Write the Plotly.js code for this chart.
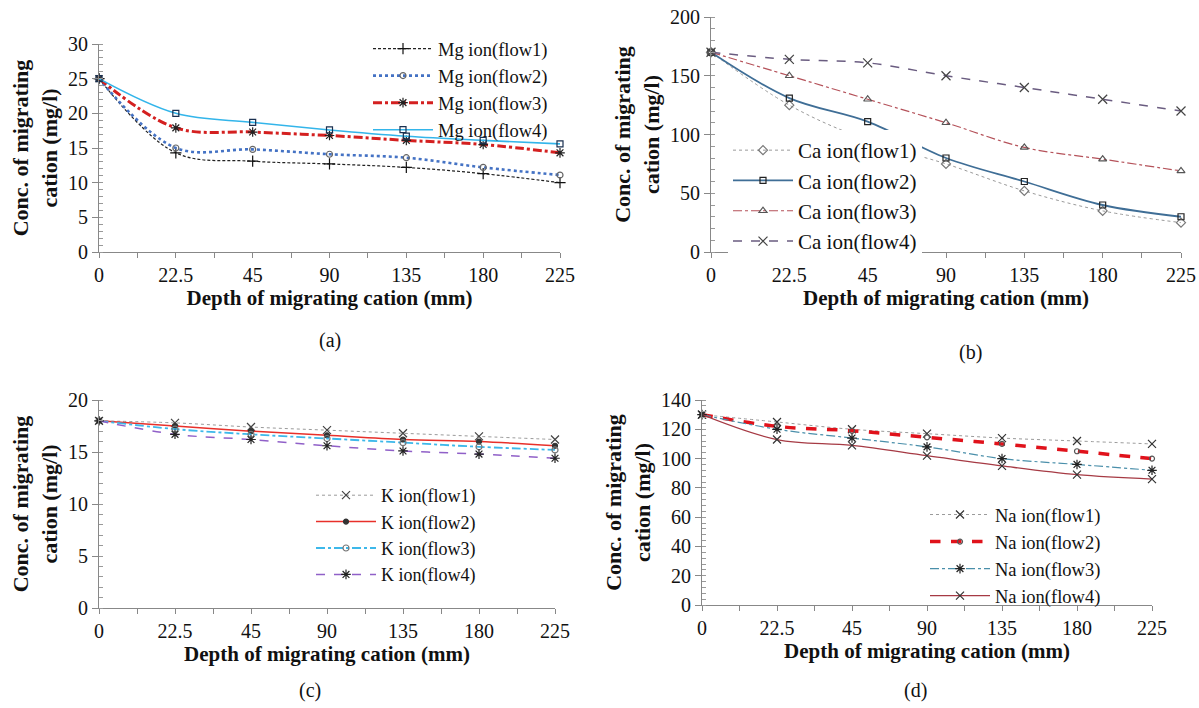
<!DOCTYPE html>
<html>
<head>
<meta charset="utf-8">
<script src="https://cdn.plot.ly/plotly-3.0.1.min.js"></script>
<style>html,body{margin:0;padding:0;background:#fff;}#chart{width:1199px;height:708px;}</style>
</head>
<body>
<div id="chart"></div>
<script>
// Tick labels (categorical depths, equally spaced)
const depthLabels = ['0', '22.5', '45', '90', '135', '180', '225'];

// (a) Mg
const mgFlow1 = [25, 14.3, 13.1, 12.7, 12.2, 11.3, 10.0];
const mgFlow2 = [25, 15.0, 14.8, 14.1, 13.6, 12.2, 11.1];
const mgFlow3 = [25, 17.9, 17.3, 16.8, 16.1, 15.5, 14.3];
const mgFlow4 = [25, 20.0, 18.7, 17.6, 16.7, 16.1, 15.6];
// (b) Ca
const caFlow1 = [170, 125, 95, 75, 52, 35, 25];
const caFlow2 = [170, 131, 111, 80, 60, 40, 30];
const caFlow3 = [170, 150, 130, 110, 89, 79, 69];
const caFlow4 = [170, 164, 161, 150, 140, 130, 120];
// (c) K
const kFlow1 = [18, 17.8, 17.4, 17.1, 16.8, 16.5, 16.2];
const kFlow2 = [18, 17.5, 17.0, 16.6, 16.2, 16.0, 15.6];
const kFlow3 = [18, 17.2, 16.7, 16.3, 15.9, 15.5, 15.2];
const kFlow4 = [18, 16.7, 16.2, 15.6, 15.1, 14.8, 14.4];
// (d) Na
const naFlow1 = [130, 125, 120, 117, 114, 112, 110];
const naFlow2 = [130, 122, 119, 114.5, 110, 105, 100];
const naFlow3 = [130, 120, 114, 108, 100, 96, 92];
const naFlow4 = [130, 113, 109, 102, 95, 89, 86];

const panelCaptions = ['(a)', '(b)', '(c)', '(d)'];

const FONT = '"Liberation Serif", "Times New Roman", serif';
const W = 1199, H = 708;
const px = v => v / W;
const py = v => (H - v) / H;

const xIdx = depthLabels.map((_, i) => i);
const tickVals = [], tickText = [];
depthLabels.forEach((l, i) => {
  tickVals.push(i); tickText.push(l);
  if (i < depthLabels.length - 1) { tickVals.push(i + 0.5); tickText.push(''); }
});

function tr(name, y, xa, ya, leg, color, dash, width, sym, mcol, msize) {
  return {
    type: 'scatter', mode: 'lines+markers', name: name, x: xIdx, y: y,
    xaxis: xa, yaxis: ya, legend: leg, cliponaxis: false,
    line: {color: color, dash: dash, width: width, shape: 'spline', smoothing: 1},
    marker: {symbol: sym, color: mcol, size: msize, line: {color: mcol, width: 1.2}}
  };
}

const data = [
  tr('Mg ion(flow1)', mgFlow1, 'x', 'y', 'legend', '#222222', '3px,2px', 1.2, 'cross-thin-open', '#111', 8),
  tr('Mg ion(flow2)', mgFlow2, 'x', 'y', 'legend', '#4472C4', 'dot', 2.6, 'circle-open', '#666', 6),
  tr('Mg ion(flow3)', mgFlow3, 'x', 'y', 'legend', '#D42020', 'dashdot', 3, 'asterisk-open', '#222', 8),
  tr('Mg ion(flow4)', mgFlow4, 'x', 'y', 'legend', '#33B5EA', 'solid', 1.6, 'square-open', '#1a3050', 6),

  tr('Ca ion(flow1)', caFlow1, 'x2', 'y2', 'legend2', '#9a9a9a', 'dot', 1, 'diamond-open', '#777', 7),
  tr('Ca ion(flow2)', caFlow2, 'x2', 'y2', 'legend2', '#3F6E96', 'solid', 1.8, 'square-open', '#222', 6),
  tr('Ca ion(flow3)', caFlow3, 'x2', 'y2', 'legend2', '#B5525A', 'dashdot', 1.2, 'triangle-up-open', '#555', 7),
  tr('Ca ion(flow4)', caFlow4, 'x2', 'y2', 'legend2', '#6A5C80', 'dash', 1.5, 'x-thin-open', '#444', 9),

  tr('K ion(flow1)', kFlow1, 'x3', 'y3', 'legend3', '#9a9a9a', 'dot', 1, 'x-thin-open', '#444', 8),
  tr('K ion(flow2)', kFlow2, 'x3', 'y3', 'legend3', '#E8302A', 'solid', 1.5, 'circle', '#333', 5),
  tr('K ion(flow3)', kFlow3, 'x3', 'y3', 'legend3', '#3DB8EA', 'dashdot', 1.8, 'circle-open', '#777', 6),
  tr('K ion(flow4)', kFlow4, 'x3', 'y3', 'legend3', '#9060C8', 'dash', 1.5, 'asterisk-open', '#222', 8),

  tr('Na ion(flow1)', naFlow1, 'x4', 'y4', 'legend4', '#9a9a9a', 'dot', 1, 'x-thin-open', '#333', 8),
  tr('Na ion(flow2)', naFlow2, 'x4', 'y4', 'legend4', '#E0121B', 'dash', 3.5, 'circle-open', '#555', 5),
  tr('Na ion(flow3)', naFlow3, 'x4', 'y4', 'legend4', '#4A8FAA', 'dashdot', 1.2, 'asterisk-open', '#222', 8),
  tr('Na ion(flow4)', naFlow4, 'x4', 'y4', 'legend4', '#A63A44', 'solid', 1.3, 'x-thin-open', '#333', 8)
];

function xAxis(x0, x1, anchor) {
  return {
    domain: [px(x0), px(x1)], anchor: anchor, range: [0, depthLabels.length - 1],
    tickmode: 'array', tickvals: tickVals, ticktext: tickText,
    ticks: 'outside', ticklen: 5, tickcolor: '#888', tickwidth: 1,
    showline: true, linecolor: '#888', linewidth: 1, zeroline: false, showgrid: false,
    tickfont: {family: FONT, size: 20, color: '#111'}, automargin: false,
    title: {text: '<b>Depth of migrating cation (mm)</b>', font: {family: FONT, size: 21, color: '#111'}, standoff: 2}
  };
}
function yAxis(y0, y1, anchor, max, dtick, minor) {
  return {
    domain: [py(y1), py(y0)], anchor: anchor, range: [0, max], tick0: 0, dtick: dtick,
    ticks: 'outside', ticklen: 6, tickcolor: '#888', tickwidth: 1,
    minor: {dtick: minor, tick0: 0, ticks: 'inside', ticklen: 4, tickcolor: '#999', showgrid: false},
    showline: true, linecolor: '#888', linewidth: 1, zeroline: false, showgrid: false,
    tickfont: {family: FONT, size: 20, color: '#111'}, automargin: false,
    title: {text: '<b>Conc. of migrating<br>cation (mg/l)</b>', font: {family: FONT, size: 22, color: '#111'}, standoff: 4}
  };
}
function legendAt(x, y, bg, fs) {
  return {x: px(x), y: py(y), xanchor: 'left', yanchor: 'top', xref: 'paper', yref: 'paper',
    bgcolor: bg, borderwidth: 0, itemwidth: 60, font: {family: FONT, size: fs, color: '#111'}, tracegroupgap: 0};
}

const layout = {
  width: W, height: H, margin: {l: 0, r: 0, t: 0, b: 0},
  paper_bgcolor: '#fff', plot_bgcolor: 'rgba(0,0,0,0)', showlegend: true,
  xaxis: xAxis(99, 560, 'y'), yaxis: yAxis(44, 252, 'x', 30, 5, 1),
  xaxis2: xAxis(711, 1181, 'y2'), yaxis2: yAxis(17, 252, 'x2', 200, 50, 10),
  xaxis3: xAxis(99, 555, 'y3'), yaxis3: yAxis(400, 608, 'x3', 20, 5, 1),
  xaxis4: xAxis(702, 1152, 'y4'), yaxis4: yAxis(400, 605, 'x4', 140, 20, 4),
  legend: legendAt(368, 30, 'rgba(255,255,255,0)', 18.5),
  legend2: legendAt(728, 130, 'rgba(255,255,255,1)', 21),
  legend3: legendAt(311, 477, 'rgba(255,255,255,0)', 18),
  legend4: legendAt(925, 496, 'rgba(255,255,255,0)', 18.5),
  annotations: [
    {text: panelCaptions[0], x: px(330), y: py(340)},
    {text: panelCaptions[1], x: px(970), y: py(352)},
    {text: panelCaptions[2], x: px(310), y: py(690)},
    {text: panelCaptions[3], x: px(915), y: py(690)}
  ].map(a => Object.assign(a, {xref: 'paper', yref: 'paper', showarrow: false, xanchor: 'center', yanchor: 'middle',
    font: {family: FONT, size: 20, color: '#111'}}))
};

Plotly.newPlot('chart', data, layout, {displayModeBar: false, staticPlot: true});
</script>
</body>
</html>
